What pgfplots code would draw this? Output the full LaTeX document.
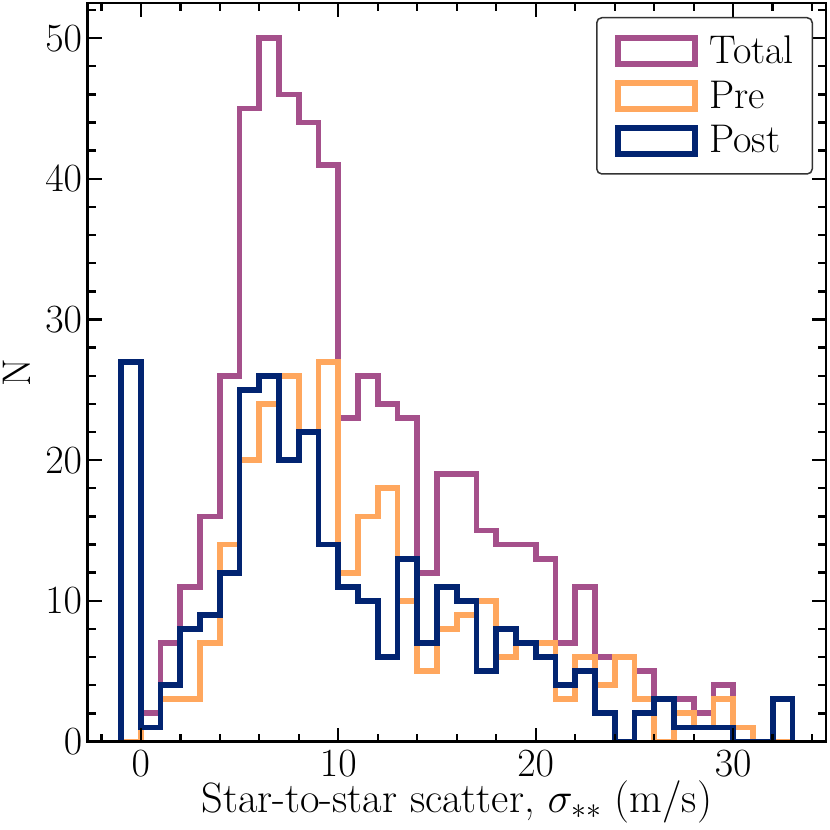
\RequirePackage{fix-cm}
\documentclass[border=0pt]{standalone}
\usepackage{pgfplots}
\pgfplotsset{compat=1.18}
\definecolor{ctotal}{RGB}{165,80,139}
\definecolor{cpre}{RGB}{255,167,94}
\definecolor{cpost}{RGB}{2,36,113}
\newcommand{\bigfont}{\fontsize{20}{24}\selectfont}
\newcommand{\labfont}{\fontsize{21.2}{25}\selectfont}
\begin{document}
\begin{tikzpicture}
\begin{axis}[
  name=ax,
  scale only axis, width=369.25pt, height=369.25pt,
  xmin=-2.7, xmax=34.7, ymin=0, ymax=52.5,
  xtick={0,10,20,30}, minor xtick={-2,0,...,34},
  ytick={0,10,...,50}, minor ytick={0,2,...,52},
  tick align=inside, xtick pos=both, ytick pos=both,
  major tick length=7pt, minor tick length=4pt,
  every tick/.style={black, line width=1.2pt},
  axis line style={line width=1.4pt},
  axis on top,
  tick label style={font=\bigfont},
  xticklabel style={inner sep=0pt, anchor=north, yshift=-4.25pt},
  yticklabel style={inner sep=0pt, anchor=east, xshift=-2.5pt},
  xlabel={Star-to-star scatter, $\sigma_{**}$ (m/s)},
  xlabel style={font=\labfont, inner sep=0pt, at={(axis description cs:0.5,0)}, anchor=base, yshift=-35.5pt},
  legend style={at={(rel axis cs:1,1)}, anchor=north east, xshift=-6.5pt, yshift=-7pt,
    draw=black!80, line width=0.75pt, rounded corners=2.5pt, fill=white,
    font=\bigfont, inner xsep=9.2pt, inner ysep=5.4pt, row sep=0pt, column sep=5.6pt,
    nodes={inner ysep=3.6pt, inner xsep=0pt}},
  legend cell align=left,
  legend image code/.code={\draw[#1, sharp corners] (0pt,-6.55pt) rectangle (38.6pt,6.55pt);},
  every axis plot/.append style={const plot mark left, line width=2.9pt, line join=miter, no marks},
]
% Total
\addplot[ctotal] coordinates {
(-1,0) (-1,27) (0,2) (1,7) (2,11) (3,16) (4,26) (5,45) (6,50) (7,46) (8,44) (9,41)
(10,23) (11,26) (12,24) (13,23) (14,12) (15,19) (16,19) (17,15) (18,14) (19,14)
(20,13) (21,7) (22,11) (23,6) (24,6) (25,5) (26,3) (27,3) (28,2) (29,4) (30,1)
(31,0) (32,3) (33,3) (33,0)};
\addlegendentry{Total}
% Pre
\addplot[cpre] coordinates {
(-1,0) (-1,0) (0,1) (1,3) (2,3) (3,7) (4,14) (5,20) (6,24) (7,26) (8,22) (9,27)
(10,12) (11,16) (12,18) (13,10) (14,5) (15,8) (16,9) (17,10) (18,6) (19,7)
(20,7) (21,3) (22,6) (23,4) (24,6) (25,3) (26,0) (27,2) (28,1) (29,3) (30,1)
(31,0) (32,0) (33,0) (33,0)};
\addlegendentry{Pre}
% Post
\addplot[cpost] coordinates {
(-1,0) (-1,27) (0,1) (1,4) (2,8) (3,9) (4,12) (5,25) (6,26) (7,20) (8,22) (9,14)
(10,11) (11,10) (12,6) (13,13) (14,7) (15,11) (16,10) (17,5) (18,8) (19,7)
(20,6) (21,4) (22,5) (23,2) (24,0) (25,2) (26,3) (27,1) (28,1) (29,1) (30,0)
(31,0) (32,3) (33,3) (33,0)};
\addlegendentry{Post}
\end{axis}
\node[rotate=90, anchor=base, inner sep=0pt, font=\bigfont] at ([xshift=-28.75pt]ax.west) {N};
\pgfresetboundingbox
\path ([shift={(-43.75pt,-44.25pt)}]ax.south west) rectangle ([shift={(2pt,1.5pt)}]ax.north east);
\end{tikzpicture}
\end{document}
